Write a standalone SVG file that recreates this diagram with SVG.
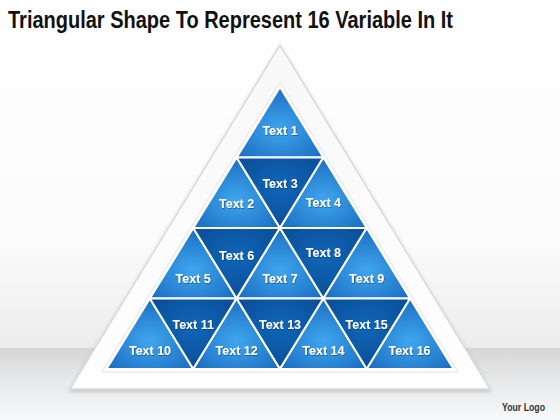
<svg xmlns="http://www.w3.org/2000/svg" width="560" height="420" viewBox="0 0 560 420">
<defs>
<linearGradient id="bgTop" x1="0" y1="0" x2="0" y2="1">
<stop offset="0" stop-color="#ffffff"/>
<stop offset="0.7" stop-color="#fbfbfb"/>
<stop offset="1" stop-color="#ececec"/>
</linearGradient>
<linearGradient id="bgFloor" x1="0" y1="0" x2="0" y2="1">
<stop offset="0" stop-color="#d6d6d6"/>
<stop offset="0.5" stop-color="#e9eaeb"/>
<stop offset="1" stop-color="#f6f9fb"/>
</linearGradient>
<linearGradient id="outerFill" x1="0" y1="0" x2="0" y2="1">
<stop offset="0" stop-color="#f8f8f8"/>
<stop offset="1" stop-color="#fefefe"/>
</linearGradient>
<radialGradient id="upG" cx="0.5" cy="0.6" r="0.6">
<stop offset="0" stop-color="#40a6ee"/>
<stop offset="1" stop-color="#1a6ec2"/>
</radialGradient>
<radialGradient id="dnG" cx="0.5" cy="0.4" r="0.6">
<stop offset="0" stop-color="#1066b8"/>
<stop offset="1" stop-color="#0a4e98"/>
</radialGradient>
<filter id="shadow" x="-10%" y="-10%" width="120%" height="125%">
<feDropShadow dx="0" dy="2" stdDeviation="2" flood-color="#000" flood-opacity="0.18"/>
</filter>
<filter id="tshadow" x="-10%" y="-30%" width="120%" height="160%">
<feDropShadow dx="0.6" dy="0.8" stdDeviation="0.4" flood-color="#002a5c" flood-opacity="0.6"/>
</filter>
</defs>
<style>
.up { fill: url(#upG); stroke: #ffffff; stroke-width: 2; stroke-linejoin: round; }
.dn { fill: url(#dnG); stroke: #ffffff; stroke-width: 2; stroke-linejoin: round; }
.lbl { font-family: "Liberation Sans", Arial, sans-serif; font-weight: bold; font-size: 12.5px; fill: #ffffff; text-anchor: middle; filter: url(#tshadow); }
.title { font-family: "Liberation Sans", Arial, sans-serif; font-weight: bold; font-size: 23px; fill: #111111; }
.logo { font-family: "Liberation Sans", Arial, sans-serif; font-weight: bold; font-size: 10px; fill: #333333; }
</style>

<rect x="0" y="0" width="560" height="348" fill="url(#bgTop)"/>
<rect x="0" y="348" width="560" height="72" fill="url(#bgFloor)"/>

<text class="title" x="8" y="28" textLength="445" lengthAdjust="spacingAndGlyphs">Triangular Shape To Represent 16 Variable In It</text>

<g id="frame">
<polygon points="280,45 70,389 490,389" fill="url(#outerFill)" stroke="#d9d9d9" stroke-width="1.5" filter="url(#shadow)"/>
<polygon points="280,82 102,372 458,372" fill="#fdfdfd" stroke="#e3e3e3" stroke-width="1"/>
</g>

<g id="t1"><polygon class="up" points="280,87 236.625,157.5 323.375,157.5"/><text class="lbl" x="280" y="135">Text 1</text></g>
<g id="t2"><polygon class="up" points="236.625,157.5 193.25,228 280,228"/><text class="lbl" x="236.6" y="208">Text 2</text></g>
<g id="t3"><polygon class="dn" points="236.625,157.5 323.375,157.5 280,228"/><text class="lbl" x="280" y="188">Text 3</text></g>
<g id="t4"><polygon class="up" points="323.375,157.5 280,228 366.75,228"/><text class="lbl" x="323.4" y="207">Text 4</text></g>
<g id="t5"><polygon class="up" points="193.25,228 149.875,298.5 236.625,298.5"/><text class="lbl" x="193.2" y="283">Text 5</text></g>
<g id="t6"><polygon class="dn" points="193.25,228 280,228 236.625,298.5"/><text class="lbl" x="236.6" y="260">Text 6</text></g>
<g id="t7"><polygon class="up" points="280,228 236.625,298.5 323.375,298.5"/><text class="lbl" x="280" y="283">Text 7</text></g>
<g id="t8"><polygon class="dn" points="280,228 366.75,228 323.375,298.5"/><text class="lbl" x="323.4" y="257">Text 8</text></g>
<g id="t9"><polygon class="up" points="366.75,228 323.375,298.5 410.125,298.5"/><text class="lbl" x="366.7" y="283">Text 9</text></g>
<g id="t10"><polygon class="up" points="149.875,298.5 106.5,369 193.25,369"/><text class="lbl" x="150" y="355">Text 10</text></g>
<g id="t11"><polygon class="dn" points="149.875,298.5 236.625,298.5 193.25,369"/><text class="lbl" x="193.2" y="329">Text 11</text></g>
<g id="t12"><polygon class="up" points="236.625,298.5 193.25,369 280,369"/><text class="lbl" x="236.6" y="355">Text 12</text></g>
<g id="t13"><polygon class="dn" points="236.625,298.5 323.375,298.5 280,369"/><text class="lbl" x="280" y="329">Text 13</text></g>
<g id="t14"><polygon class="up" points="323.375,298.5 280,369 366.75,369"/><text class="lbl" x="323.4" y="355">Text 14</text></g>
<g id="t15"><polygon class="dn" points="323.375,298.5 410.125,298.5 366.75,369"/><text class="lbl" x="366.7" y="329">Text 15</text></g>
<g id="t16"><polygon class="up" points="410.125,298.5 366.75,369 453.5,369"/><text class="lbl" x="409.5" y="355">Text 16</text></g>

<g id="connectors"></g>

<text class="logo" x="502" y="411" textLength="43" lengthAdjust="spacingAndGlyphs">Your Logo</text>
</svg>
